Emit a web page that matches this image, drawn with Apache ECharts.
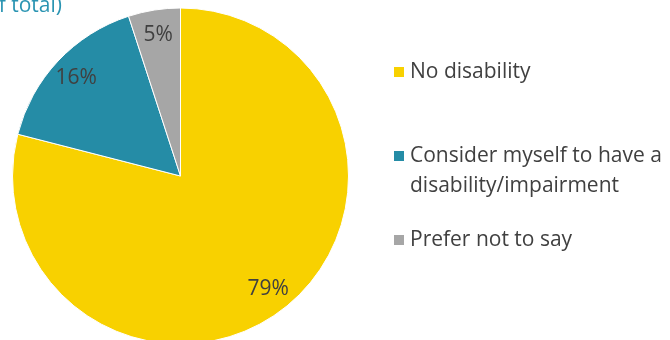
<!DOCTYPE html>
<html>
<head>
<meta charset="utf-8">
<script src="https://cdn.jsdelivr.net/npm/echarts@6/dist/echarts.min.js"></script>
<style>
  html, body { margin: 0; padding: 0; background: #fff; }
  #chart { width: 670px; height: 340px; }
</style>
</head>
<body>
<div id="chart"></div>
<script>
const categories = ['No disability', 'Consider myself to have a\ndisability/impairment', 'Prefer not to say']
const shares = [79, 16, 5]
const colors = ['#f8d100', '#258ca6', '#a6a6a6']

const textColor = '#404040'
const font = '"Open Sans", sans-serif'

const chart = echarts.init(document.getElementById('chart'))

const pieData = categories.map((name, i) => ({
  name,
  value: shares[i],
  itemStyle: { color: colors[i] }
}))

const option = {
  backgroundColor: '#fff',
  animation: false,
  title: {
    text: '(% of total)',
    left: -43,
    top: -4,
    padding: 0,
    textStyle: { color: '#2a94b2', fontSize: 21, fontWeight: 'normal', fontFamily: font }
  },
  legend: {
    orient: 'vertical',
    left: 392,
    top: 57,
    padding: 0,
    itemGap: 24,
    itemWidth: 12,
    itemHeight: 12,
    icon: 'rect',
    textStyle: { color: textColor, fontSize: 21, lineHeight: 30, fontFamily: font },
    // leading blank line keeps the marker level with the first text line
    formatter: name => (name.indexOf('\n') >= 0 ? '\n' + name : name),
    data: categories
  },
  series: [
    {
      type: 'pie',
      center: [180.5, 176],
      radius: [0, 168],
      startAngle: 90,
      clockwise: true,
      avoidLabelOverlap: false,
      itemStyle: { borderColor: '#fff', borderWidth: 1 },
      label: { show: false },
      labelLine: { show: false },
      data: pieData
    },
    {
      // transparent ring only used to place the value labels near the rim
      type: 'pie',
      center: [180.5, 176],
      radius: [0, 280],
      startAngle: 90,
      clockwise: true,
      silent: true,
      avoidLabelOverlap: false,
      itemStyle: { color: 'transparent', borderWidth: 0 },
      label: {
        show: true,
        position: 'inside',
        formatter: '{c}%',
        color: textColor,
        fontSize: 21,
        fontFamily: font
      },
      labelLine: { show: false },
      data: categories.map((name, i) => ({ name, value: shares[i] }))
    }
  ]
}

chart.setOption(option)
</script>
</body>
</html>
